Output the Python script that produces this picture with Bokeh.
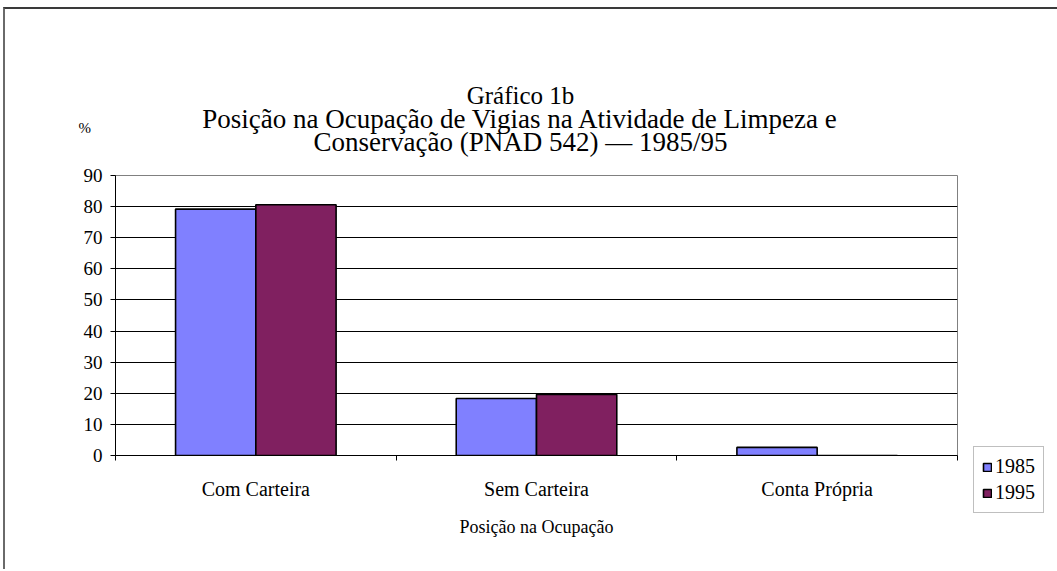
from bokeh.plotting import figure
from bokeh.models import (Range1d, LinearAxis, FixedTicker, Label,
                          Legend, LegendItem, ColumnDataSource)
from bokeh.transform import dodge
from bokeh.embed import file_html
from bokeh.resources import INLINE

categories = ["Com Carteira", "Sem Carteira", "Conta Própria"]
series_names = ["1985", "1995"]
values_1985 = [79.2, 18.3, 2.6]
values_1995 = [80.6, 19.6, 0.0]
y_ticks = [0, 10, 20, 30, 40, 50, 60, 70, 80, 90]
title_lines = ["Gráfico 1b",
               "Posição na Ocupação de Vigias na Atividade de Limpeza e",
               "Conservação (PNAD 542) — 1985/95"]
x_title = "Posição na Ocupação"
y_unit = "%"

FONT = "Liberation Serif"
C1985 = "#8080FF"
C1995 = "#802060"

n = len(categories)
centers = [i + 0.5 for i in range(n)]
src = ColumnDataSource(dict(xc=centers, cat=categories, v1985=values_1985, v1995=values_1995))

p = figure(frame_width=842, frame_height=280, output_backend="svg", toolbar_location=None,
           x_range=Range1d(0, n), y_range=Range1d(0, 90),
           x_axis_location=None,
           min_border_left=110, min_border_right=98, min_border_top=166, min_border_bottom=114,
           background_fill_color="white", border_fill_color="white")
p.styles = {"margin-left": "3px", "margin-top": "7px",
            "border-top": "2px solid #3a3a3a", "border-left": "2px solid #6a6a6a"}

p.outline_line_color = "#808080"
p.outline_line_width = 1

r1 = p.vbar(x=dodge("xc", -0.143), top="v1985", width=0.286, source=src,
            fill_color=C1985, line_color="black", line_width=1.6)
r2 = p.vbar(x=dodge("xc", 0.143), top="v1995", width=0.286, source=src,
            fill_color=C1995, line_color="black", line_width=1.6)

# grid
p.xgrid.grid_line_color = None
p.ygrid.grid_line_color = "black"
p.ygrid.grid_line_width = 1
p.ygrid.ticker = FixedTicker(ticks=y_ticks)

# y axis
ya = p.yaxis[0]
ya.ticker = FixedTicker(ticks=y_ticks)
ya.axis_line_color = "black"
ya.major_tick_line_color = "black"
ya.major_tick_out = 5
ya.major_tick_in = 0
ya.minor_tick_line_color = None
ya.major_label_text_font = FONT
ya.major_label_text_font_size = "19px"
ya.major_label_text_color = "black"
ya.major_label_standoff = 8

# tick axis at category boundaries
bounds = list(range(n + 1))
tick_axis = LinearAxis(ticker=FixedTicker(ticks=bounds),
                       major_label_overrides={b: "" for b in bounds},
                       major_label_text_font_size="1px", major_label_standoff=0,
                       major_tick_out=5, major_tick_in=0,
                       minor_tick_line_color=None,
                       axis_line_color="black", major_tick_line_color="black")
# category label axis
label_axis = LinearAxis(ticker=FixedTicker(ticks=centers),
                        major_label_overrides={c: name for c, name in zip(centers, categories)},
                        axis_line_color=None, major_tick_line_color=None,
                        minor_tick_line_color=None,
                        major_label_text_font=FONT, major_label_text_font_size="20px",
                        major_label_text_color="black", major_label_standoff=11,
                        axis_label=x_title, axis_label_text_font=FONT,
                        axis_label_text_font_style="normal", axis_label_text_font_size="18px",
                        axis_label_text_color="black", axis_label_standoff=14)
p.add_layout(tick_axis, "below")
p.add_layout(label_axis, "below")

# titles (placed in the top margin, positioned with the plot's own scales)
title_x = [1.443, 1.443, 1.443]
title_y = [115.7, 108.3, 100.9]
title_sizes = ["25px", "27px", "27px"]
for line, x, y, fs in zip(title_lines, title_x, title_y, title_sizes):
    p.add_layout(Label(x=x, y=y, text=line,
                       text_font=FONT, text_font_size=fs, text_color="black",
                       text_align="center", text_baseline="middle"), "above")
p.add_layout(Label(x=-0.110, y=105.4, text=y_unit,
                   text_font=FONT, text_font_size="15px", text_color="black",
                   text_align="center", text_baseline="middle"), "above")

legend = Legend(items=[LegendItem(label=series_names[0], renderers=[r1]),
                       LegendItem(label=series_names[1], renderers=[r2])],
                location=(16, -58), orientation="vertical",
                label_text_font=FONT, label_text_font_size="20px", label_text_color="black",
                glyph_width=10, glyph_height=10, label_standoff=3,
                padding=8, spacing=3, margin=0, label_height=20,
                border_line_color="#808080", border_line_width=1,
                background_fill_color="white", background_fill_alpha=1)
p.add_layout(legend, "right")

open("out.html", "w").write(file_html(p, INLINE))
